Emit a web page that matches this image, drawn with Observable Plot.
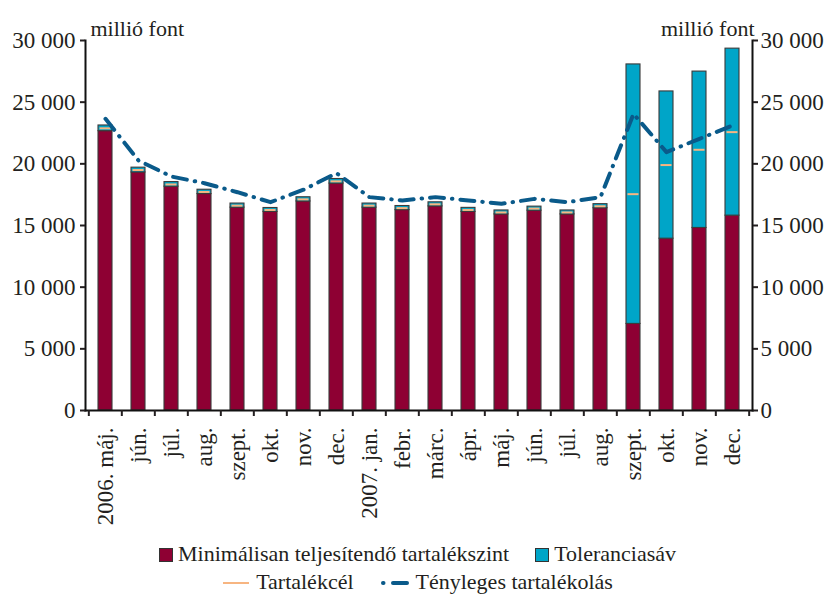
<!DOCTYPE html>
<html><head><meta charset="utf-8">
<script src="https://cdn.jsdelivr.net/npm/d3@7"></script>
<script src="https://cdn.jsdelivr.net/npm/@observablehq/plot@0.6"></script>
<style>
body{margin:0;background:#fff;font-family:'Liberation Serif','DejaVu Serif','Times New Roman',serif;color:#231f20}
#legend{width:825px;text-align:center;font-size:22px;line-height:28px;margin-top:-5px;padding-left:10px;box-sizing:border-box}
.sw{display:inline-block;width:12px;height:12px;border:1px solid #333;vertical-align:middle;margin-right:5px;position:relative;top:-1px}
.ln{display:inline-block;vertical-align:middle;margin-right:6px;position:relative;top:-1px}
.gap{display:inline-block;width:26px}
</style></head><body><div id="chart"></div>
<div id="legend">
<div><span class="sw" style="background:#8e0033"></span>Minimálisan teljesítendő tartalékszint<span class="gap"></span><span class="sw" style="background:#00a5c8"></span>Toleranciasáv</div>
<div><svg class="ln" width="28" height="6"><line x1="1" y1="3" x2="27" y2="3" stroke="#f7b581" stroke-width="2"/></svg>Tartalékcél<span class="gap"></span><svg class="ln" width="30" height="8"><line x1="3" y1="4" x2="3.5" y2="4" stroke="#0a5a8a" stroke-width="4" stroke-linecap="round"/><line x1="13" y1="4" x2="27" y2="4" stroke="#0a5a8a" stroke-width="4" stroke-linecap="round"/></svg>Tényleges tartalékolás</div>
</div>
<script>
const labels = ["2006. máj.","jún.","júl.","aug.","szept.","okt.","nov.","dec.","2007. jan.","febr.","márc.","ápr.","máj.","jún.","júl.","aug.","szept.","okt.","nov.","dec."];
const minimum = [22650,19300,18150,17550,16450,16100,16950,18400,16450,16250,16550,16100,15900,16200,15900,16400,7020,13930,14800,15800];
const tolerance = [460,390,370,350,330,320,340,370,330,330,330,330,320,330,320,330,21040,11940,12680,13540];
const target = [22880,19500,18330,17720,16610,16260,17120,18580,16610,16410,16720,16260,16060,16370,16060,16560,17540,19900,21140,22570];
const actual = [23650,20270,18970,18430,17700,16890,17900,19240,17300,17030,17300,17030,16760,17160,16890,17300,24050,20950,22030,23110];
const yTicks = [0,5000,10000,15000,20000,25000,30000];
const unit = "millió font";

const RED = "#8e0033", CYAN = "#00a5c8", ORANGE = "#f7b581", BLUE = "#0a5a8a";
const fmt = d3.formatLocale({thousands:" ", decimal:",", grouping:[3], currency:["",""]}).format(",d");

const idx = d3.range(labels.length);
const stacked = idx.flatMap(i => [{i, s:"min", v:minimum[i]}, {i, s:"tol", v:tolerance[i]}]);
const pts = idx.map(i => ({i, target:target[i], actual:actual[i]}));

const W = 825, ML = 85, MR = 73;
const half = (W - ML - MR) / labels.length / 2;

const chart = Plot.plot({
  width: W, height: 545,
  marginLeft: ML, marginRight: MR, marginTop: 40, marginBottom: 135,
  style: {fontFamily: "'Liberation Serif','DejaVu Serif','Times New Roman',serif", fontSize: "23px", color: "#231f20", background: "#fff"},
  x: {domain: idx, paddingInner: 0.57, paddingOuter: 0.285},
  y: {domain: [0, 30000]},
  color: {domain: ["min","tol"], range: [RED, CYAN]},
  marks: [
    Plot.barY(stacked, {x: "i", y: "v", fill: "s", stroke: "#3a3a3a", strokeWidth: 1.1}),
    Plot.tickY(pts, {x: "i", y: "target", stroke: ORANGE, strokeWidth: 2, insetLeft: 1.5, insetRight: 1.5}),
    Plot.lineY(pts, {x: "i", y: "actual", stroke: BLUE, strokeWidth: 4, strokeLinecap: "round", strokeDasharray: "14,8,0.5,8"}),
    Plot.frame({anchor: "left", stroke: "#111", strokeWidth: 2}),
    Plot.frame({anchor: "right", stroke: "#111", strokeWidth: 2}),
    Plot.frame({anchor: "bottom", stroke: "#111", strokeWidth: 2}),
    Plot.axisY({anchor: "left", ticks: yTicks, tickFormat: fmt, tickSize: 5, tickPadding: 5, label: null, strokeWidth: 2}),
    Plot.axisY({anchor: "right", ticks: yTicks, tickFormat: fmt, tickSize: 5, tickPadding: 3, label: null, strokeWidth: 2}),
    Plot.axisX({tickSize: 0, tickPadding: 17, tickRotate: -90, tickFormat: i => labels[i], label: null}),
    Plot.axisX({tickSize: 6, tickFormat: () => "", dx: -half, label: null, strokeWidth: 2}),
    Plot.axisX({ticks: [idx[idx.length-1]], tickSize: 6, tickFormat: () => "", dx: half, label: null, strokeWidth: 2}),
    Plot.text([unit], {text: d => d, frameAnchor: "top-left", textAnchor: "start", dx: 5, dy: -20, fill: "#231f20", fontSize: 22}),
    Plot.text([unit], {text: d => d, frameAnchor: "top-right", textAnchor: "end", dx: 2, dy: -20, fill: "#231f20", fontSize: 22})
  ]
});
document.getElementById("chart").appendChild(chart);
</script>
</body></html>
